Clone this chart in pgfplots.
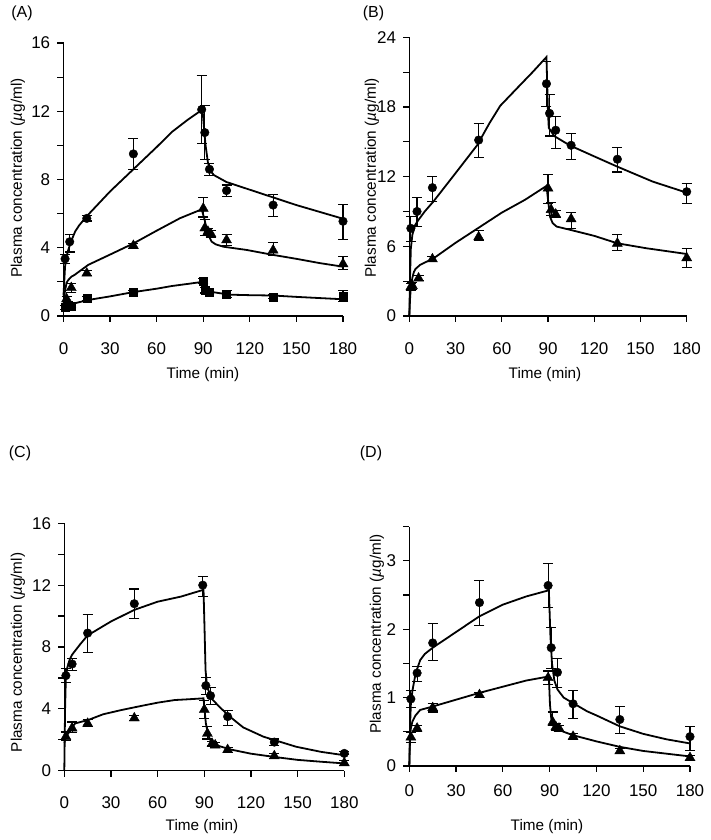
\documentclass[border=0pt]{standalone}
\usepackage{pgfplots}
\pgfplotsset{compat=1.18}
\usepackage{fontspec}
\setmainfont{Liberation Sans}
\pgfplotsset{
 panel/.style={
  scale only axis, anchor=south west, clip=false,
  axis lines=left, axis line style={-, line width=1.3pt, black},
  every outer x axis line/.append style={-},
  every outer y axis line/.append style={-},
  xmin=0, xmax=180, xtick={0,30,...,180}, ymin=0,
  tick align=outside, major tick length=6pt, minor tick length=6pt,
  every tick/.style={black, line width=1.2pt},
  tick label style={font=\fontsize{17pt}{20pt}\selectfont},
  /pgf/number format/assume math mode=true,
  xticklabel style={yshift=-15pt},
  yticklabel style={xshift=-2pt},
 },
 curve/.style={black, line width=1.8pt, mark=none},
 pts/.style={black, fill=black, only marks,
  error bars/y dir=both, error bars/y explicit,
  error bars/error bar style={line width=1.1pt, black},
  error bars/error mark options={rotate=90, mark size=5pt, line width=1.1pt, black}},
 circ/.style={mark=*, mark size=4.3pt},
 tri/.style={mark=triangle*, mark size=5.8pt},
 sq/.style={mark=square*, mark size=4pt},
}
\begin{document}
\fontsize{15.3pt}{18pt}\selectfont
\begin{tikzpicture}[x=1pt,y=1pt]
\path (0,0) rectangle (710,840);
% ---------------- (A)
\begin{axis}[panel, at={(63.5pt,524pt)}, width=279.5pt, height=273pt,
  ymax=16, ytick={0,4,8,12,16}, minor ytick={2,6,10,14}]
\addplot[curve] coordinates {(0,1.2)(1,2.9)(2,3.5)(3,3.85)(5,4.4)(7.5,4.95)(10,5.3)(15,5.85)(30,7.3)(45,8.6)(60,9.9)(70,10.8)(80,11.5)(89.5,12.1)(90.5,11.0)(91.5,10.0)(93,9.0)(95,8.45)(97,8.25)(105,7.85)(120,7.4)(135,6.95)(150,6.5)(165,6.1)(180,5.7)};
\addplot[curve] coordinates {(0,0.7)(1,1.5)(2,1.95)(3,2.1)(5,2.3)(7,2.4)(10,2.6)(16,3.0)(30,3.6)(45,4.25)(60,5.0)(75,5.73)(89,6.25)(91,5.6)(92.2,5.04)(93.5,4.7)(95.4,4.36)(98,4.2)(103,4.06)(118,3.87)(135,3.58)(150,3.35)(165,3.1)(180,2.89)};
\addplot[curve] coordinates {(0,0.3)(1,0.55)(3,0.68)(7,0.74)(16,0.94)(30,1.15)(45,1.4)(60,1.6)(70,1.76)(80,1.88)(89.5,2.0)(91,1.6)(93,1.45)(96,1.4)(107,1.25)(120,1.22)(135,1.2)(150,1.12)(165,1.05)(180,0.98)};
\addplot[pts, circ] table[x=t,y=v,y error plus=ep,y error minus=em] {
t v ep em
1 3.35 0.25 0.25
4 4.35 0.45 0.6
15 5.72 0.15 0.15
45 9.5 0.9 0.9
89 12.1 2.0 2.0
91 10.75 1.6 1.6
94 8.6 0.35 0.35
105 7.35 0.33 0.33
135 6.5 0.6 0.65
180 5.55 1.0 1.05
};
\addplot[pts, tri] table[x=t,y=v,y error plus=ep,y error minus=em] {
t v ep em
2 1.0 0.15 0.15
5 1.65 0.25 0.25
15 2.5 0.15 0.15
45 4.12 0.15 0.15
90 6.3 0.65 0.5
91 5.15 0.5 0.45
93 4.95 0.2 0.2
95 4.8 0.2 0.2
105 4.45 0.35 0.3
135 3.85 0.45 0.3
180 3.05 0.45 0.3
};
\addplot[pts, sq] table[x=t,y=v,y error plus=ep,y error minus=em] {
t v ep em
1 0.5 0.1 0.1
3 0.6 0.25 0.1
5 0.6 0.1 0.1
15 1.02 0.1 0.1
45 1.42 0.1 0.1
90 2.05 0.15 0.15
91 1.5 0.15 0.15
94 1.4 0.15 0.15
105 1.3 0.2 0.2
135 1.13 0.1 0.1
180 1.15 0.35 0.3
};
\end{axis}
% ---------------- (B)
\begin{axis}[panel, at={(409.3pt,524pt)}, width=277.4pt, height=278.7pt,
  ymax=24, ytick={0,6,12,18,24}, minor ytick={3,9,15,21}]
\addplot[curve] coordinates {(0,0)(0.5,3.5)(1,5.8)(2,7.0)(3.7,7.8)(5,8.1)(10,9.0)(15.6,9.85)(30,12.3)(44,14.7)(52,16.6)(59,18.1)(72,19.9)(80,21.0)(89,22.3)(90,17.5)(90.5,16.2)(94,15.5)(104,14.7)(119.4,13.78)(135,12.86)(158,11.57)(180,10.62)};
\addplot[curve] coordinates {(0,0)(0.5,1.5)(1,2.5)(2,3.3)(3,3.8)(4,4.05)(7,4.4)(10,4.6)(15.6,4.95)(30,6.3)(45,7.6)(60,8.9)(75,10.0)(89,11.2)(90.2,9.8)(91.3,8.55)(93,8.0)(95.6,7.7)(105,7.4)(120,6.9)(135,6.26)(154,5.83)(180,5.34)};
\addplot[pts, circ] table[x=t,y=v,y error plus=ep,y error minus=em] {
t v ep em
1 7.55 1.0 1.15
5 9.0 1.2 1.3
15 11.05 1.0 1.2
45 15.15 1.45 1.5
89 20.0 1.95 1.95
91 17.45 1.6 1.95
95 16.0 1.2 1.55
105 14.7 1.0 1.2
135 13.5 1.0 1.1
180 10.7 0.7 1.0
};
\addplot[pts, tri] table[x=t,y=v,y error plus=ep,y error minus=em] {
t v ep em
1 2.5 0.3 0.3
2 2.6 0.3 0.3
6 3.25 0.2 0.2
15 4.9 0.2 0.2
45 6.8 0.6 0.3
90 11.0 1.2 1.3
92 9.15 0.6 0.5
95 8.75 0.3 0.3
105 8.35 0.6 0.8
135 6.25 0.8 0.6
180 5.0 0.8 0.8
};
\end{axis}
% ---------------- (C)
\begin{axis}[panel, at={(64.3pt,69.3pt)}, width=280pt, height=247.4pt,
  ymax=16, ytick={0,4,8,12,16}, minor ytick={2,6,10,14}]
\addplot[curve] coordinates {(0,0)(0.5,4)(1,6.0)(2,6.7)(3.5,7.2)(5,7.5)(10,8.15)(15,8.75)(30,9.65)(45,10.4)(60,10.93)(75,11.26)(89.5,11.7)(90.2,9.0)(90.8,6.5)(91.8,5.43)(94.8,4.65)(100,4.1)(106.5,3.49)(115,2.8)(128,2.2)(149,1.55)(165,1.22)(180,1.0)};
\addplot[curve] coordinates {(0,1.8)(1,2.2)(2.6,2.42)(5,2.8)(7,3.06)(15.4,3.28)(25,3.65)(37,3.93)(50,4.2)(60,4.4)(71,4.57)(80,4.62)(89.5,4.68)(90.3,3.8)(91,3.07)(92.5,2.3)(94,1.95)(95.8,1.73)(100,1.58)(106.5,1.38)(120,1.1)(136.5,0.87)(150,0.7)(165,0.58)(180,0.47)};
\addplot[pts, circ] table[x=t,y=v,y error plus=ep,y error minus=em] {
t v ep em
1 6.15 0.45 0.45
5 6.9 0.35 0.4
15 8.9 1.2 1.25
45 10.8 0.95 0.95
89 12.0 0.55 0.75
91 5.5 0.55 0.55
94 4.85 0.55 0.55
105 3.5 0.4 0.6
135 1.85 0.2 0.2
180 1.12 0.1 0.1
};
\addplot[pts, tri] table[x=t,y=v,y error plus=ep,y error minus=em] {
t v ep em
1 2.2 0.3 0.25
5 2.75 0.4 0.3
15 3.05 0.25 0.2
45 3.4 0.15 0.15
90 3.95 0.6 0.6
92 2.4 0.45 0.35
95 1.75 0.15 0.15
97 1.65 0.15 0.15
105 1.35 0.15 0.15
135 0.95 0.15 0.15
180 0.5 0.15 0.15
};
\end{axis}
% ---------------- (D)
\begin{axis}[panel, at={(409.3pt,74pt)}, width=280.7pt, height=239.3pt,
  ymax=3.5, ytick={0,1,2,3}, minor ytick={0.5,1.5,2.5,3.5},
  xticklabel style={yshift=8pt}]
\addplot[curve] coordinates {(0,0)(0.5,0.6)(1,0.9)(2,1.1)(4,1.35)(7,1.55)(10,1.64)(15,1.73)(30,1.96)(45,2.19)(60,2.36)(75,2.48)(89.5,2.57)(90.5,1.9)(91.5,1.5)(93,1.25)(95,1.12)(99,1.0)(105,0.92)(114,0.8)(120,0.74)(135,0.58)(150,0.47)(165,0.39)(180,0.33)};
\addplot[curve] coordinates {(0,0)(0.5,0.43)(1,0.55)(2,0.65)(4,0.74)(7,0.82)(15,0.87)(30,0.97)(45,1.07)(60,1.16)(75,1.25)(89.5,1.31)(90.2,0.9)(91,0.7)(92,0.6)(95,0.54)(99,0.5)(105,0.45)(120,0.36)(135,0.28)(150,0.22)(165,0.18)(180,0.14)};
\addplot[pts, circ] table[x=t,y=v,y error plus=ep,y error minus=em] {
t v ep em
1 0.98 0.12 0.12
5 1.36 0.1 0.12
15 1.8 0.28 0.26
45 2.39 0.32 0.33
89 2.64 0.32 0.32
91 1.73 0.3 0.3
95 1.37 0.2 0.22
105 0.91 0.2 0.21
135 0.68 0.19 0.2
180 0.43 0.15 0.2
};
\addplot[pts, tri] table[x=t,y=v,y error plus=ep,y error minus=em] {
t v ep em
1 0.42 0.07 0.07
5 0.55 0.04 0.04
15 0.85 0.06 0.06
45 1.04 0.04 0.04
89 1.29 0.1 0.1
92 0.64 0.15 0.05
94 0.57 0.05 0.05
96 0.55 0.04 0.04
105 0.43 0.04 0.04
135 0.22 0.04 0.04
180 0.12 0.04 0.04
};
\end{axis}
% ---------------- labels
\node[font=\fontsize{16pt}{19pt}\selectfont] at (22,827) {(A)};
\node[font=\fontsize{16pt}{19pt}\selectfont] at (373.5,827) {(B)};
\node[font=\fontsize{16pt}{19pt}\selectfont] at (20,387) {(C)};
\node[font=\fontsize{16pt}{19pt}\selectfont] at (371,387) {(D)};
\node at (203,465) {Time (min)};
\node at (545,465) {Time (min)};
\node at (202,13.3) {Time (min)};
\node at (547,13.3) {Time (min)};
\node[rotate=90] at (18,662) {Plasma concentration ({\itshape µ}g/ml)};
\node[rotate=90] at (372,662) {Plasma concentration ({\itshape µ}g/ml)};
\node[rotate=90] at (18,187.5) {Plasma concentration ({\itshape µ}g/ml)};
\node[rotate=90] at (377,206) {Plasma concentration ({\itshape µ}g/ml)};
\end{tikzpicture}
\end{document}
